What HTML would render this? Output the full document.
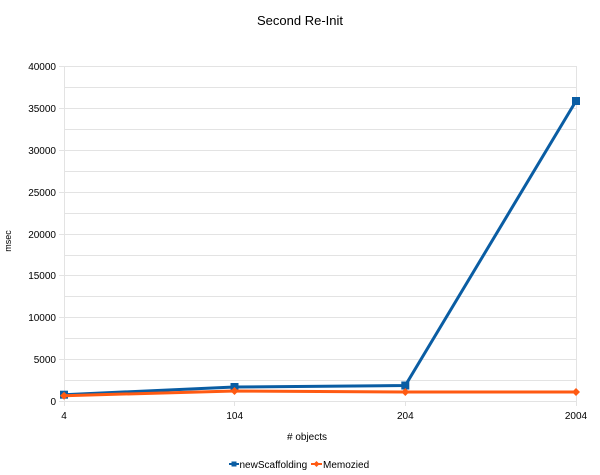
<!DOCTYPE html>
<html><head><meta charset="utf-8"><style>
html,body{margin:0;padding:0;background:#fff;}
svg{display:block;font-family:"Liberation Sans",Arial,sans-serif;}
</style></head><body>
<svg width="600" height="475" viewBox="0 0 600 475" xmlns="http://www.w3.org/2000/svg">
<rect width="600" height="475" fill="#fff"/>
<text x="300" y="25" font-size="13" text-anchor="middle" fill="#000">Second Re-Init</text>
<g stroke="#e3e3e3" stroke-width="1" shape-rendering="crispEdges">
<line x1="59" y1="66.5" x2="576" y2="66.5"/>
<line x1="64" y1="87.5" x2="576" y2="87.5"/>
<line x1="59" y1="108.5" x2="576" y2="108.5"/>
<line x1="64" y1="129.5" x2="576" y2="129.5"/>
<line x1="59" y1="150.5" x2="576" y2="150.5"/>
<line x1="64" y1="171.5" x2="576" y2="171.5"/>
<line x1="59" y1="192.5" x2="576" y2="192.5"/>
<line x1="64" y1="213.5" x2="576" y2="213.5"/>
<line x1="59" y1="234.5" x2="576" y2="234.5"/>
<line x1="64" y1="255.5" x2="576" y2="255.5"/>
<line x1="59" y1="275.5" x2="576" y2="275.5"/>
<line x1="64" y1="296.5" x2="576" y2="296.5"/>
<line x1="59" y1="317.5" x2="576" y2="317.5"/>
<line x1="64" y1="338.5" x2="576" y2="338.5"/>
<line x1="59" y1="359.5" x2="576" y2="359.5"/>
<line x1="64" y1="380.5" x2="576" y2="380.5"/>
<line x1="59" y1="401.5" x2="576" y2="401.5"/>
<line x1="64.5" y1="66" x2="64.5" y2="406"/>
<line x1="576.5" y1="66" x2="576.5" y2="406"/>
<line x1="234.5" y1="401" x2="234.5" y2="406"/>
<line x1="405.5" y1="401" x2="405.5" y2="406"/>
</g>
<g font-size="10" fill="#000" text-anchor="end">
<text x="56" y="70">40000</text>
<text x="56" y="112">35000</text>
<text x="56" y="154">30000</text>
<text x="56" y="196">25000</text>
<text x="56" y="238">20000</text>
<text x="56" y="279">15000</text>
<text x="56" y="321">10000</text>
<text x="56" y="363">5000</text>
<text x="56" y="405">0</text>
</g>
<g font-size="10" fill="#000" text-anchor="middle">
<text x="64" y="419">4</text>
<text x="234.7" y="419">104</text>
<text x="405.3" y="419">204</text>
<text x="576" y="419">2004</text>
<text x="307" y="440">&#35; objects</text>
</g>
<text x="0" y="0" font-size="9" text-anchor="middle" transform="translate(11,241) rotate(-90)">msec</text>
<polyline points="64,394.7 234.5,387 405.3,385.5 576,101" fill="none" stroke="#0a5da3" stroke-width="3" stroke-linejoin="round"/>
<g fill="#0a5da3">
<rect x="60" y="390.7" width="8" height="8"/>
<rect x="230.5" y="383" width="8" height="8"/>
<rect x="401.3" y="381.5" width="8" height="8"/>
<rect x="572" y="97" width="8" height="8"/>
</g>
<polyline points="64,395.7 234.5,391 405.3,392 576,392" fill="none" stroke="#ff5a12" stroke-width="3" stroke-linejoin="round"/>
<g fill="#ff5a12">
<polygon points="64,391.7 68,395.7 64,399.7 60,395.7"/>
<polygon points="234.5,387 238.5,391 234.5,395 230.5,391"/>
<polygon points="405.3,388 409.3,392 405.3,396 401.3,392"/>
<polygon points="576,388 580,392 576,396 572,392"/>
</g>
<g font-size="10" fill="#000">
<line x1="229" y1="464" x2="239" y2="464" stroke="#0a5da3" stroke-width="2"/>
<rect x="231.5" y="461.5" width="5" height="5" fill="#0a5da3"/>
<text x="239.5" y="468">newScaffolding</text>
<line x1="311" y1="464" x2="322" y2="464" stroke="#ff5a12" stroke-width="2"/>
<polygon points="316.5,461 319.5,464 316.5,467 313.5,464" fill="#ff5a12"/>
<text x="323" y="468">Memozied</text>
</g>
</svg>
</body></html>
